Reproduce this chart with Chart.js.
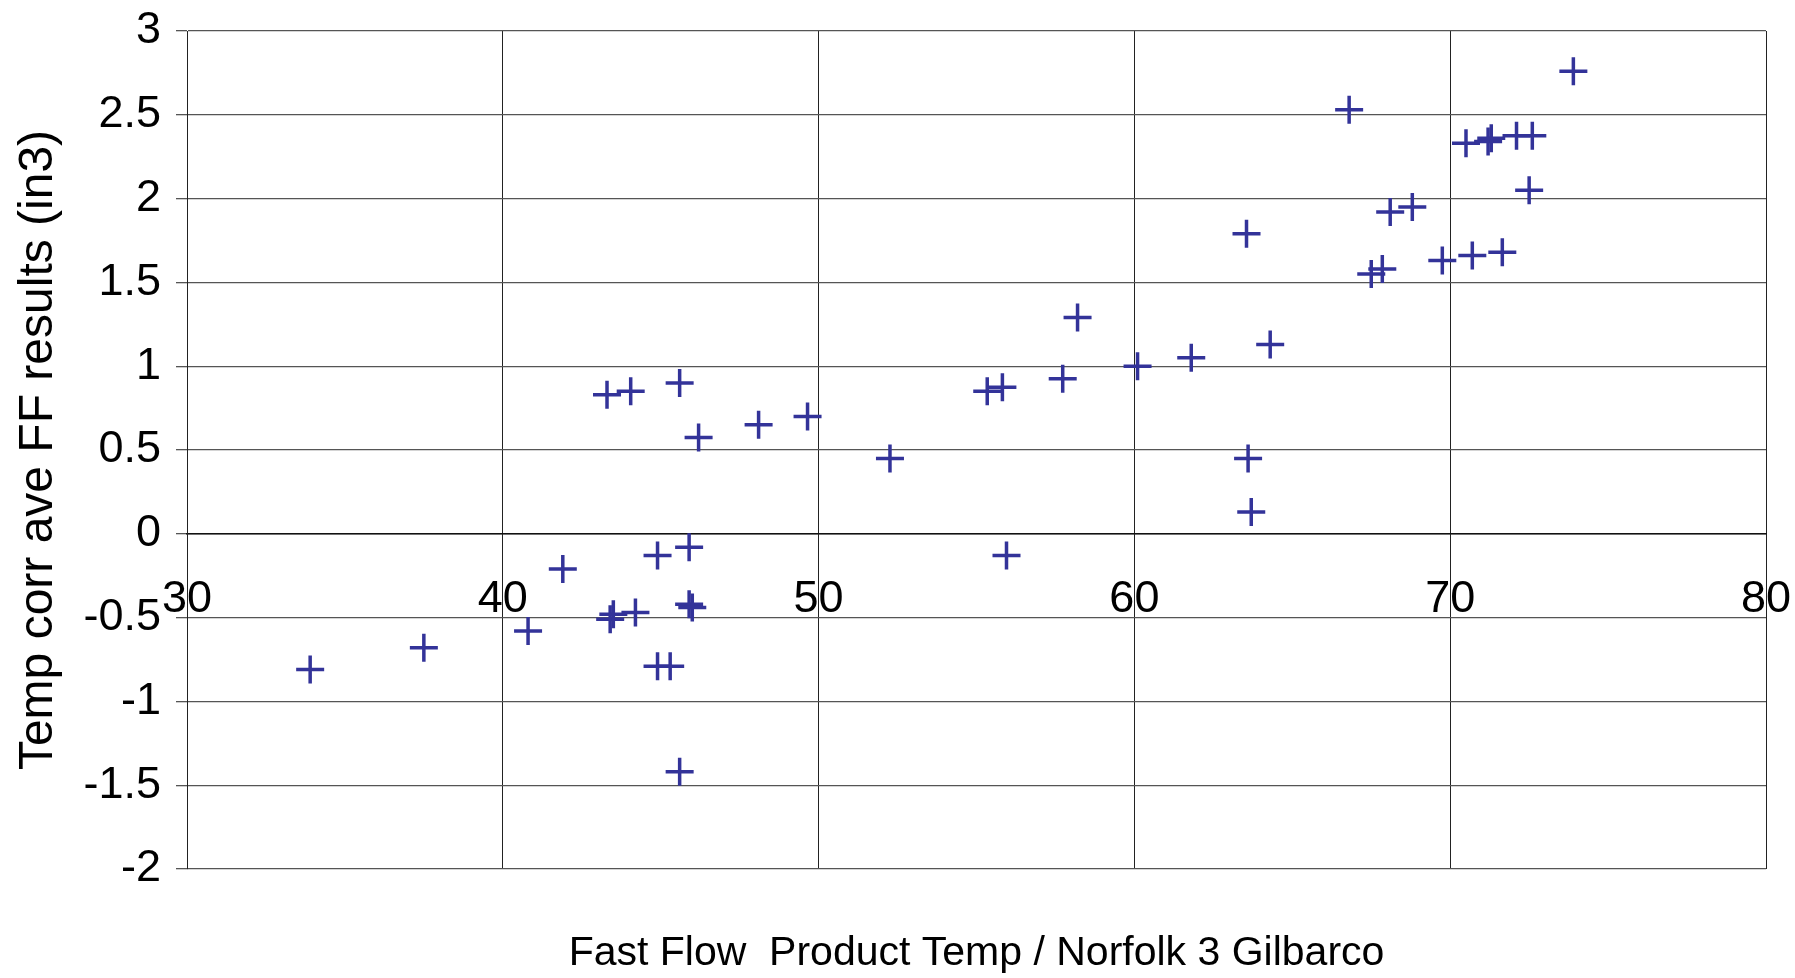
<!DOCTYPE html>
<html>
<head>
<meta charset="utf-8">
<script src="https://cdn.jsdelivr.net/npm/chart.js@4/dist/chart.umd.min.js"></script>
<style>
  html, body { margin: 0; padding: 0; background: #fff; }
  #wrap { width: 1795px; height: 978px; position: relative; }
</style>
</head>
<body>
<div id="wrap"><canvas id="myChart"></canvas></div>
<script>
// product temperature (x) and temp corrected average FF result (y)
var productTemp = [
  33.9, 37.5, 40.8, 41.9, 43.4, 43.5, 44.2, 44.9, 45.9, 45.9, 46.0, 44.9, 45.3, 45.6,
  43.3, 44.05, 45.6, 46.2, 48.1, 49.65, 52.26, 55.34, 55.82, 57.73, 58.2, 60.1, 61.8,
  64.3, 63.6, 63.7, 55.95,
  73.9, 66.8, 70.5, 71.2, 71.3, 72.1, 72.6, 72.5, 63.55, 68.1, 68.8, 69.75, 70.7,
  71.65, 67.5, 67.85
];
var ffResult = [
  -0.81, -0.68, -0.58, -0.21, -0.51, -0.48, -0.47, -0.13, -0.08, -0.42, -0.44, -0.79, -0.79, -1.42,
  0.83, 0.85, 0.90, 0.575, 0.65, 0.70, 0.45, 0.85, 0.875, 0.925, 1.29, 1.0, 1.05,
  1.13, 0.45, 0.13, -0.13,
  2.76, 2.53, 2.33, 2.34, 2.36, 2.375, 2.375, 2.05, 1.79, 1.92, 1.95, 1.63, 1.66,
  1.68, 1.55, 1.58
];
var xTicks = [30, 40, 50, 60, 70, 80];
var yTicks = [-2, -1.5, -1, -0.5, 0, 0.5, 1, 1.5, 2, 2.5, 3];

var xTitle = "Fast Flow  Product Temp / Norfolk 3 Gilbarco";
var yTitle = "Temp corr ave FF results (in3)";

var points = productTemp.map(function (x, i) {
  return { x: x, y: ffResult[i] };
});

var font = "'Liberation Sans', Arial, sans-serif";

function fixedTicks(list) {
  return function (scale) {
    scale.ticks = list.map(function (v) { return { value: v }; });
  };
}

// labels may hang over the plot edge, like in the original
function noOverhang(scale) {
  scale.paddingTop = 0;
  scale.paddingBottom = 0;
  scale.paddingLeft = 0;
  scale.paddingRight = 0;
}

var ctx = document.getElementById("myChart").getContext("2d");
var chart = new Chart(ctx, {
  type: "scatter",
  data: {
    datasets: [
      {
        label: "FF results",
        data: points,
        pointStyle: "cross",
        pointRadius: 14,
        pointHoverRadius: 14,
        borderWidth: 3.5,
        borderColor: "#333399",
        backgroundColor: "#333399",
      },
    ],
  },
  options: {
    responsive: true,
    maintainAspectRatio: false,
    animation: false,
    layout: { padding: { top: 31, right: 29, left: 0, bottom: 0 } },
    plugins: {
      legend: { display: false },
      tooltip: { enabled: false },
    },
    scales: {
      x: {
        type: "linear",
        min: 30,
        max: 80,
        position: { y: 0 },
        afterBuildTicks: fixedTicks(xTicks),
        afterFit: noOverhang,
        grid: { color: "#222", lineWidth: 1, tickLength: 12, drawTicks: true },
        border: { display: true, color: "#111", width: 1.5 },
        ticks: {
          color: "#000",
          padding: 27,
          maxRotation: 0,
          font: { family: font, size: 45 },
          callback: function (v) { return String(v); },
        },
      },
      x2: {
        type: "linear",
        min: 30,
        max: 80,
        position: "bottom",
        grid: { display: false, drawTicks: false },
        border: { display: false },
        ticks: { display: false },
        afterFit: function (scale) {
          noOverhang(scale);
          scale.height = 109;
        },
        title: {
          display: true,
          text: xTitle,
          color: "#000",
          padding: { top: 0, bottom: 0 },
          font: { family: font, size: 41 },
        },
      },
      y: {
        type: "linear",
        min: -2,
        max: 3,
        afterBuildTicks: fixedTicks(yTicks),
        afterFit: function (scale) {
          noOverhang(scale);
          scale.width = 187;
        },
        grid: { color: "#555", lineWidth: 1.3, tickLength: 11 },
        border: { display: true, color: "#222", width: 1 },
        ticks: {
          color: "#000",
          padding: 15,
          font: { family: font, size: 45 },
          callback: function (v) { return String(v); },
        },
        title: {
          display: true,
          text: yTitle,
          color: "#000",
          padding: { top: 10, bottom: 0 },
          font: { family: font, size: 48 },
        },
      },
    },
  },
});
</script>
</body>
</html>
